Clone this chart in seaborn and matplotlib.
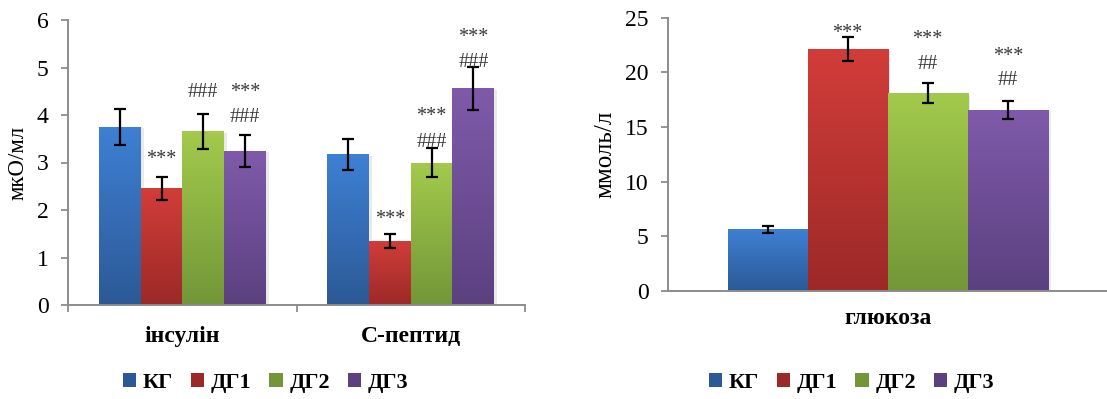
import numpy as np
import pandas as pd
import matplotlib
matplotlib.use("Agg")
import matplotlib.pyplot as plt
import matplotlib.patheffects as pe
from matplotlib.colors import LinearSegmentedColormap
from matplotlib.patches import Rectangle
import seaborn as sns

# ---- data ----
groups = ["КГ", "ДГ1", "ДГ2", "ДГ3"]

left_categories = ["інсулін", "С-пептид"]
left_means = {
    "КГ":  [3.75, 3.17],
    "ДГ1": [2.46, 1.35],
    "ДГ2": [3.66, 3.00],
    "ДГ3": [3.24, 4.56],
}
left_errors = {
    "КГ":  [0.38, 0.33],
    "ДГ1": [0.24, 0.14],
    "ДГ2": [0.37, 0.30],
    "ДГ3": [0.33, 0.46],
}
# significance marks above each bar (lowest first)
left_marks = {
    "КГ":  [[], []],
    "ДГ1": [["***"], ["***"]],
    "ДГ2": [["###"], ["###", "***"]],
    "ДГ3": [["###", "***"], ["###", "***"]],
}

right_categories = ["глюкоза"]
right_means = {"КГ": [5.65], "ДГ1": [22.1], "ДГ2": [18.1], "ДГ3": [16.55]}
right_errors = {"КГ": [0.3], "ДГ1": [1.1], "ДГ2": [0.9], "ДГ3": [0.85]}
right_marks = {"КГ": [[]], "ДГ1": [["***"]], "ДГ2": [["##", "***"]], "ДГ3": [["##", "***"]]}

# ---- layout / style ----
# height (px) of each mark's centre above the error-bar cap
left_mark_gaps = {
    "КГ":  [[], []],
    "ДГ1": [[22.7], [20.3]],
    "ДГ2": [[23], [8.3, 37.6]],
    "ДГ3": [[20.3, 48], [6.7, 34.4]],
}
right_mark_gaps = {"КГ": [[]], "ДГ1": [[9.4]], "ДГ2": [[21, 49.3]], "ДГ3": [[22.4, 50]]}

# gradient colours (top, bottom) per group
grad_colors = {
    "КГ":  ("#3e80d4", "#2c5996"),
    "ДГ1": ("#d23d39", "#9c2928"),
    "ДГ2": ("#a3ca4c", "#739638"),
    "ДГ3": ("#7f5aaa", "#5b4180"),
}

SERIF = "Liberation Serif"
DPI = 100
MARK_SIZE = 14.5

fig = plt.figure(figsize=(11.07, 3.99), dpi=DPI)
plt.rcParams["font.family"] = [SERIF, "DejaVu Serif"]
ax_l = fig.add_axes([68.3 / 1107, 1 - 305 / 399, (525 - 68.3) / 1107, 285 / 399])
ax_r = fig.add_axes([668.3 / 1107, 1 - 291 / 399, (1107 - 668.3) / 1107, 273.3 / 399])


def long_frame(categories, means):
    rows = []
    for g in groups:
        for c, v in zip(categories, means[g]):
            rows.append({"category": c, "group": g, "value": v})
    return pd.DataFrame(rows)


def glyph_centre_px(label):
    # approximate height of the ink centre above the baseline, in px
    em = MARK_SIZE * DPI / 72
    return em * (0.50 if label.startswith("*") else 0.34)


def draw_panel(ax, categories, means, errors, marks, gaps, ylim, yticks, ylabel,
               ylabel_size, boundary_ticks):
    df = long_frame(categories, means)
    palette = {g: grad_colors[g][0] for g in groups}
    sns.barplot(data=df, x="category", y="value", hue="group", order=categories,
                hue_order=groups, palette=palette, width=0.73, errorbar=None,
                ax=ax, legend=False, saturation=1, linewidth=0)
    ax.set_ylim(*ylim)

    bars = [p for p in ax.patches if isinstance(p, Rectangle) and p.get_height() > 0]
    idx = 0
    for g in groups:
        top, bottom = grad_colors[g]
        cmap = LinearSegmentedColormap.from_list(g, [bottom, top])
        for ci in range(len(categories)):
            p = bars[idx]
            idx += 1
            x0, w, h = p.get_x(), p.get_width(), p.get_height()
            p.set_path_effects([pe.SimplePatchShadow(offset=(2, -1),
                                                     shadow_rgbFace="#a0a0a0",
                                                     alpha=0.22), pe.Normal()])
            grad = np.linspace(0, 1, 256).reshape(-1, 1)
            im = ax.imshow(grad, cmap=cmap, origin="lower", aspect="auto",
                           extent=(x0, x0 + w, 0, h), zorder=2.5)
            im.set_clip_path(p)
            cx = x0 + w / 2
            m, e = means[g][ci], errors[g][ci]
            ax.errorbar(cx, m, yerr=e, fmt="none", ecolor="black",
                        elinewidth=1.6, capsize=4.6, capthick=1.6, zorder=4)
            for lab, gap in zip(marks[g][ci], gaps[g][ci]):
                off_px = gap - glyph_centre_px(lab)
                ax.annotate(lab, (cx, m + e), xytext=(0, off_px * 72 / DPI),
                            textcoords="offset points", ha="center", va="baseline",
                            fontsize=MARK_SIZE, color="#383838", zorder=5)

    ax.set_xlim(-0.5, len(categories) - 0.5)
    ax.set_yticks(yticks)
    ax.set_yticklabels([str(t) for t in yticks], fontsize=17)
    ax.set_xlabel("")
    ax.set_ylabel(ylabel, fontsize=ylabel_size)
    for s in ["top", "right"]:
        ax.spines[s].set_visible(False)
    for s in ["left", "bottom"]:
        ax.spines[s].set_color("#8c8c8c")
        ax.spines[s].set_linewidth(1.4)
    ax.tick_params(axis="y", length=4.7, color="#8c8c8c", width=1.3, pad=9.5)
    ax.tick_params(axis="x", which="major", length=0, pad=15)
    for lab in ax.get_xticklabels():
        lab.set_fontweight("bold")
        lab.set_fontsize(17)
    if boundary_ticks:
        ax.set_xticks(np.arange(-0.5, len(categories), 1.0), minor=True)
        ax.tick_params(axis="x", which="minor", length=5, color="#8c8c8c", width=1.3)
    ax.set_facecolor("white")


draw_panel(ax_l, left_categories, left_means, left_errors, left_marks, left_mark_gaps,
           (0, 6), [0, 1, 2, 3, 4, 5, 6], "мкО/мл", 16.5, True)
draw_panel(ax_r, right_categories, right_means, right_errors, right_marks, right_mark_gaps,
           (0, 25), [0, 5, 10, 15, 20, 25], "ммоль/л", 18, False)
ax_l.yaxis.set_label_coords(-0.086, 0.5)
ax_r.yaxis.set_label_coords(-0.118, 0.5)
ax_r.tick_params(axis="x", which="major", pad=12)

# legends under each panel
handles = [Rectangle((0, 0), 1, 1, facecolor=grad_colors[g][1], edgecolor="none")
           for g in groups]
for xc in (265.5 / 1107, 851.5 / 1107):
    fig.legend(handles, groups, loc="center", bbox_to_anchor=(xc, 1 - 383 / 399),
               ncol=4, frameon=False, handlelength=0.6, handleheight=0.6,
               handletextpad=0.3, columnspacing=0.8,
               prop={"family": SERIF, "weight": "bold", "size": 16})

fig.savefig("out.png", dpi=DPI, facecolor="white")
